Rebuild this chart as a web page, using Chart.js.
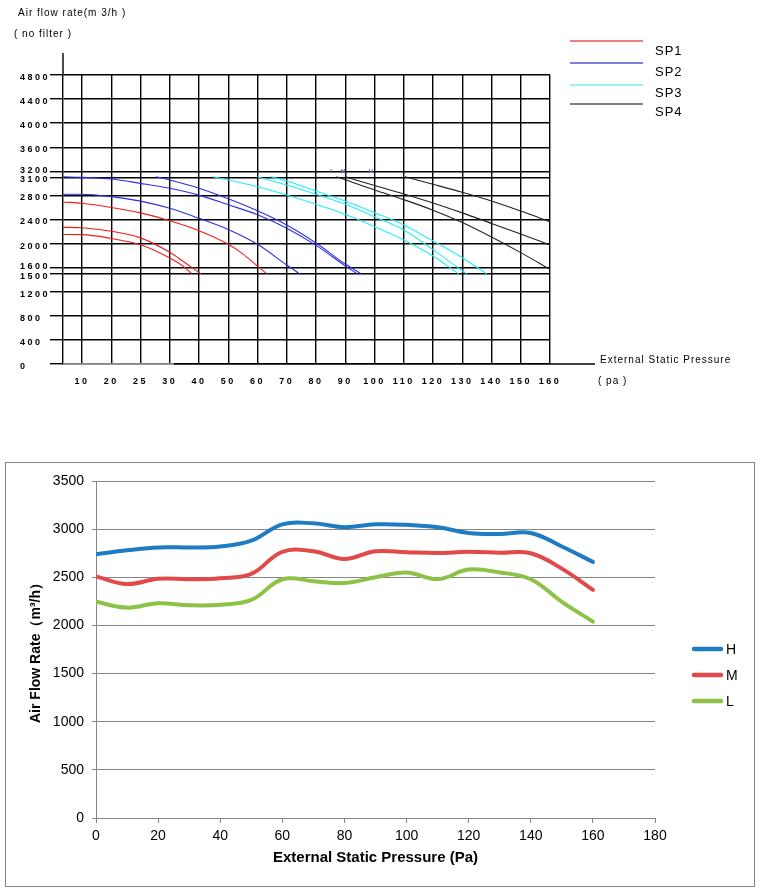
<!DOCTYPE html>
<html>
<head>
<meta charset="utf-8">
<script src="https://cdn.jsdelivr.net/npm/chart.js@4.4.1/dist/chart.umd.min.js"></script>
<style>
  body { margin: 0; background: #fff; }
  #page { position: relative; width: 760px; height: 892px; }
  #topBox { position: absolute; left: 0; top: 0; width: 760px; height: 400px; }
  #bottomBox { position: absolute; left: 5px; top: 462px; width: 748px; height: 423px; border: 1px solid #868686; }
</style>
</head>
<body>
<div id="page">
  <div id="topBox"><canvas id="chart0"></canvas></div>
  <div id="bottomBox"><canvas id="chart1"></canvas></div>
</div>
<script>
// ---------- top chart: fan curves (no filter) ----------
const xTickValues = [10, 20, 25, 30, 40, 50, 60, 70, 80, 90, 100, 110, 120, 130, 140, 150, 160];
const yTickValues = [0, 400, 800, 1200, 1500, 1600, 2000, 2400, 2800, 3100, 3200, 3600, 4000, 4400, 4800];
const spNames = ["SP1", "SP2", "SP3", "SP4"];
const spColors = ["#f01c1c", "#2d2de8", "#1ff0f8", "#222222"];
const spLegendColors = ["#d40000", "#0000b8", "#30e4e4", "#000000"];
const speedMarks = ["L", "M", "H"];
const speedMarkPressure = [85.5, 89.2, 98.8];

// [pressure Pa, air flow m3/h]
const sp1a = [[0, 2690], [10, 2670], [20, 2600], [25, 2510], [30, 2380], [40, 2215], [50, 1990], [55, 1830], [60, 1625], [63.1, 1500]];
const sp1b = [[0, 2270], [10, 2262], [20, 2205], [25, 2095], [30, 1855], [35, 1690], [40.6, 1500]];
const sp1c = [[0, 2150], [10, 2148], [20, 2085], [25, 1980], [30, 1760], [35, 1610], [37.5, 1500]];
const sp2a = [[0, 3110], [10, 3100], [20, 3073], [25, 3000], [30, 2918], [40, 2805], [50, 2645], [60, 2480], [70, 2255], [80, 1970], [90, 1630], [94, 1500]];
const sp2b = [[27.7, 3110], [30, 3056], [40, 2920], [50, 2745], [60, 2545], [70, 2310], [80, 2010], [90, 1660], [95.3, 1500]];
const sp2c = [[0, 2820], [10, 2820], [20, 2780], [25, 2705], [30, 2586], [40, 2420], [50, 2235], [60, 1988], [70, 1644], [74.3, 1500]];
const sp3a = [[44.7, 3110], [50, 3056], [60, 2945], [70, 2807], [80, 2652], [90, 2486], [100, 2281], [110, 2060], [120, 1794], [128.7, 1500]];
const sp3b = [[60, 3110], [70, 2973], [80, 2818], [90, 2652], [100, 2447], [110, 2225], [120, 1900], [130, 1550], [131.5, 1500]];
const sp3c = [[64.5, 3110], [70, 3040], [80, 2873], [90, 2707], [100, 2513], [110, 2309], [120, 2043], [130, 1766], [138.3, 1500]];
const sp4a = [[87, 3110], [90, 3060], [100, 2890], [110, 2730], [120, 2555], [130, 2350], [140, 2110], [150, 1850], [160, 1572]];
const sp4b = [[90, 3110], [100, 2965], [110, 2825], [120, 2675], [130, 2510], [140, 2335], [150, 2160], [160, 1976]];
const sp4c = [[110.4, 3110], [120, 2985], [130, 2852], [140, 2707], [150, 2540], [160, 2363]];

// ---------- bottom chart: H / M / L ----------
const pressures = [0, 10, 20, 30, 40, 50, 60, 70, 80, 90, 100, 110, 120, 130, 140, 150, 160];
const flowH = [2740, 2780, 2810, 2810, 2820, 2880, 3050, 3060, 3020, 3050, 3045, 3020, 2960, 2950, 2960, 2820, 2660];
const flowM = [2510, 2430, 2485, 2480, 2490, 2535, 2765, 2770, 2690, 2770, 2760, 2752, 2765, 2755, 2750, 2590, 2370];
const flowL = [2245, 2185, 2230, 2210, 2215, 2265, 2480, 2460, 2440, 2500, 2550, 2480, 2580, 2550, 2480, 2245, 2040];
const seriesNames = ["H", "M", "L"];
const seriesColors = ["#1f7bc2", "#e04a4a", "#8dc246"];

const FONT = '"Liberation Sans", Arial, sans-serif';

// x axis of the top chart: ticks evenly spaced, first gap (0..10) shorter
const FIRST_GAP = 0.65;
class PressureScale extends Chart.LinearScale {
  static id = "pressure";
  static defaults = {};
  toPos(v) {
    const t = xTickValues;
    if (v <= t[0]) return v / t[0] * FIRST_GAP;
    for (let i = 0; i < t.length - 1; i++) {
      if (v <= t[i + 1]) return FIRST_GAP + i + (v - t[i]) / (t[i + 1] - t[i]);
    }
    return FIRST_GAP + t.length - 1;
  }
  buildTicks() {
    this.start = this.min;
    this.end = this.max;
    return xTickValues.map(v => ({ value: v }));
  }
  getPixelForValue(v) {
    return this.getPixelForDecimal(this.toPos(v) / (FIRST_GAP + xTickValues.length - 1));
  }
}
Chart.register(PressureScale);

const topExtras = {
  id: "topExtras",
  beforeDraw(chart) {
    chart.ctx.letterSpacing = "2.5px";
  },
  afterDraw(chart) {
    const { ctx, chartArea: a, scales: { x, y } } = chart;
    ctx.save();
    ctx.strokeStyle = "#000";
    ctx.lineWidth = 1.4;
    ctx.beginPath();
    ctx.moveTo(a.left, a.top);
    ctx.lineTo(a.left, 53);
    ctx.moveTo(a.right, a.bottom);
    ctx.lineTo(595, a.bottom);
    ctx.stroke();
    ctx.strokeStyle = "#b4b4b4";
    ctx.beginPath();
    ctx.moveTo(a.left, a.bottom);
    ctx.lineTo(x.getPixelForValue(30) + 4, a.bottom);
    ctx.stroke();

    ctx.fillStyle = "#000";
    ctx.textBaseline = "middle";
    ctx.textAlign = "left";
    ctx.font = "10px " + FONT;
    ctx.letterSpacing = "1px";
    ctx.fillText("Air flow rate(m 3/h )", 18, 13);
    ctx.fillText("( no filter )", 14, 34);
    ctx.fillText("External Static Pressure", 600, 360);
    ctx.fillText("( pa )", 598, 381);

    // legend
    const lineY = [41, 63, 85, 104];
    const textY = [51, 72, 93, 112];
    ctx.font = "13px " + FONT;
    spNames.forEach((name, i) => {
      ctx.strokeStyle = spLegendColors[i];
      ctx.lineWidth = 1.2;
      ctx.beginPath();
      ctx.moveTo(570, lineY[i]);
      ctx.lineTo(643, lineY[i]);
      ctx.stroke();
      ctx.fillText(name, 655, textY[i]);
    });

    // tiny speed marks on the 3200 line
    ctx.font = "bold 6px " + FONT;
    ctx.letterSpacing = "0px";
    ctx.fillStyle = "#56709a";
    ctx.textAlign = "center";
    speedMarks.forEach((m, i) => {
      ctx.fillText(m, x.getPixelForValue(speedMarkPressure[i]), y.getPixelForValue(3200));
    });
    ctx.restore();
  }
};

const topCurves = [sp1a, sp1b, sp1c, sp2a, sp2b, sp2c, sp3a, sp3b, sp3c, sp4a, sp4b, sp4c];
const tickFont = { family: FONT, size: 9, weight: "bold", lineHeight: 0.8 };

new Chart(document.getElementById("chart0").getContext("2d"), {
  type: "scatter",
  data: {
    datasets: topCurves.map((pts, i) => ({
      label: spNames[Math.floor(i / 3)],
      data: pts,
      showLine: true,
      borderColor: spColors[Math.floor(i / 3)],
      borderWidth: 1.1,
      pointRadius: 0,
      fill: false,
      cubicInterpolationMode: "monotone"
    }))
  },
  options: {
    responsive: true,
    maintainAspectRatio: false,
    animation: false,
    events: [],
    layout: { padding: { left: 20, top: 75, right: 210, bottom: 6 } },
    plugins: { legend: { display: false }, tooltip: { enabled: false } },
    scales: {
      x: {
        type: "pressure",
        min: 0,
        max: 160,
        grid: { color: "#000", lineWidth: 1.4, drawTicks: false },
        border: { color: "#000", width: 1.4 },
        ticks: { autoSkip: false, maxRotation: 0, padding: 14, color: "#000", font: tickFont, callback: v => String(v) },
        afterFit: s => { s.height = 30; }
      },
      y: {
        min: 0,
        max: 4800,
        afterBuildTicks: s => { s.ticks = yTickValues.map(v => ({ value: v })); },
        grid: { color: "#000", lineWidth: 1.4, tickLength: 13 },
        border: { color: "#000", width: 1.4 },
        ticks: {
          crossAlign: "far", padding: 2, labelOffset: 2.5, color: "#000", font: tickFont,
          // the 3200 and 1600 labels sit a little higher than the rest
          callback: v => (v === 3200 || v === 1600) ? [String(v), ""] : String(v)
        },
        afterFit: s => { s.width = 43; }
      }
    }
  },
  plugins: [topExtras]
});

const bottomLegend = {
  id: "bottomLegend",
  afterDraw(chart) {
    const ctx = chart.ctx;
    ctx.save();
    ctx.font = "14px " + FONT;
    ctx.textBaseline = "middle";
    ctx.textAlign = "left";
    chart.data.datasets.forEach((ds, i) => {
      const ly = 186 + i * 26;
      ctx.strokeStyle = ds.borderColor;
      ctx.lineWidth = 4.5;
      ctx.lineCap = "round";
      ctx.beginPath();
      ctx.moveTo(688, ly);
      ctx.lineTo(715, ly);
      ctx.stroke();
      ctx.fillStyle = "#000";
      ctx.fillText(ds.label, 720, ly + 1);
    });
    ctx.restore();
  }
};

new Chart(document.getElementById("chart1").getContext("2d"), {
  type: "line",
  data: {
    datasets: [flowH, flowM, flowL].map((flow, i) => ({
      label: seriesNames[i],
      data: flow.map((v, k) => ({ x: pressures[k], y: v })),
      borderColor: seriesColors[i],
      backgroundColor: seriesColors[i],
      borderWidth: 4,
      borderCapStyle: "round",
      pointRadius: 0,
      tension: 0.4,
      fill: false
    }))
  },
  options: {
    responsive: true,
    maintainAspectRatio: false,
    animation: false,
    events: [],
    layout: { padding: { left: 0, top: 18, right: 99, bottom: 0 } },
    plugins: { legend: { display: false }, tooltip: { enabled: false } },
    scales: {
      x: {
        type: "linear",
        min: 0,
        max: 180,
        ticks: { stepSize: 20, padding: 5, maxRotation: 0, color: "#000", font: { family: FONT, size: 14 }, callback: v => String(v) },
        grid: { drawOnChartArea: false, tickLength: 5, color: "#868686" },
        border: { color: "#868686" },
        title: {
          display: true,
          text: "External Static Pressure (Pa)",
          color: "#000",
          font: { family: FONT, size: 15, weight: "bold" },
          padding: { top: 0, bottom: 19 }
        },
        afterFit: s => { s.height = 68; }
      },
      y: {
        min: 0,
        max: 3500,
        ticks: { stepSize: 500, padding: 8, color: "#000", font: { family: FONT, size: 14 }, callback: v => String(v) },
        grid: { color: "#868686", tickLength: 4 },
        border: { color: "#868686" },
        title: {
          display: true,
          text: "Air Flow Rate（m³/h）",
          color: "#000",
          font: { family: FONT, size: 14, weight: "bold" },
          padding: { top: 22, bottom: 0 }
        },
        afterFit: s => { s.width = 90; }
      }
    }
  },
  plugins: [bottomLegend]
});
</script>
</body>
</html>
